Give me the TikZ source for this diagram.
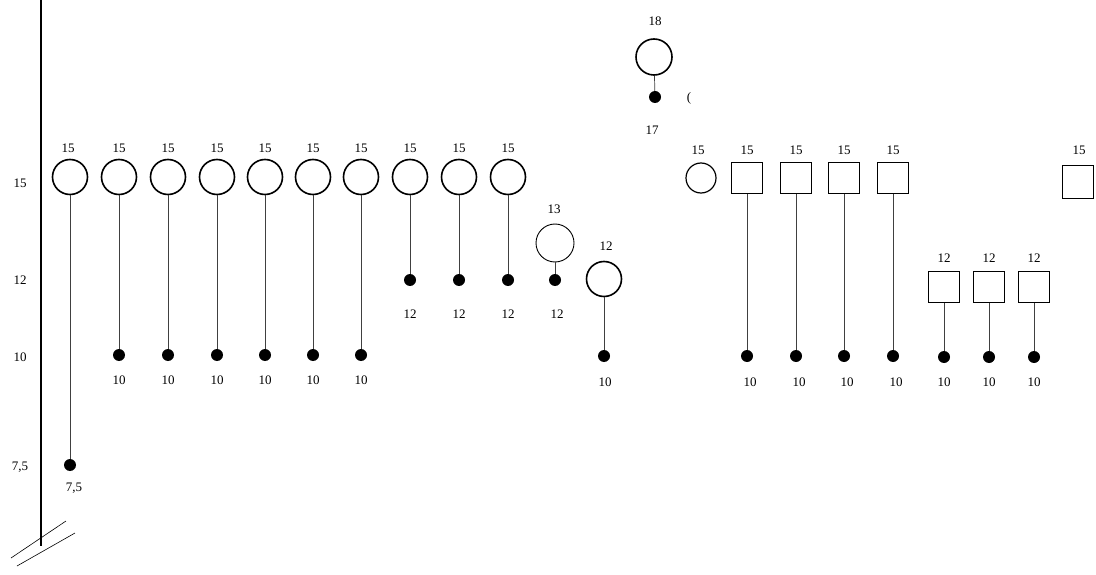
\documentclass[tikz,border=0pt]{standalone}
\usepackage{fontspec}
\setmainfont{Liberation Serif}
\begin{document}
\begin{tikzpicture}[x=1pt,y=-1pt,
  ring/.style={circle,draw=black,line width=1.6pt,minimum size=#1,inner sep=0pt},
  ring/.default=35pt,
  box/.style={rectangle,draw=black,line width=1.6pt,minimum width=31pt,minimum height=31pt,inner sep=0pt},
  dot/.style={circle,fill=black,minimum size=12pt,inner sep=0pt},
  lbl/.style={font=\fontsize{13}{13}\selectfont,inner sep=0pt},
  stem/.style={draw=black!75,line width=0.7pt}]
\useasboundingbox (0,0) rectangle (1096,575);
% axis
\coordinate (at) at (41,0);
\coordinate (ab) at (41,546);
\draw[line width=2.8pt] (at) -- (ab);
\coordinate (h1a) at (11,558); \coordinate (h1b) at (66,521);
\coordinate (h2a) at (17,566); \coordinate (h2b) at (75,533);
\draw[line width=0.6pt] (h1a) -- (h1b);
\draw[line width=0.6pt] (h2a) -- (h2b);
\node[lbl] (y15) at (20,183) {15};
\node[lbl] (y12) at (20,280) {12};
\node[lbl] (y10) at (20,357) {10};
\node[lbl] (y75) at (20,467) {7,5};
% first circle
\node[ring] (c1) at (70,177) {};
\node[lbl] (l1) at (68,148) {15};
\node[dot] (d1) at (70,465) {};
\node[lbl] (m1) at (74,488) {7,5};
\draw[stem] (c1) -- (d1);
% circles to 10
\foreach \i/\x in {2/119,3/168,4/217,5/265,6/313,7/361}{
  \node[ring] (c\i) at (\x,177) {};
  \node[lbl] (l\i) at (\x,148) {15};
  \node[dot] (d\i) at (\x,355) {};
  \node[lbl] (m\i) at (\x,380) {10};
  \draw[stem] (c\i) -- (d\i);
}
% circles to 12
\foreach \i/\x in {8/410,9/459,10/508}{
  \node[ring] (c\i) at (\x,177) {};
  \node[lbl] (l\i) at (\x,148) {15};
  \node[dot] (d\i) at (\x,280) {};
  \node[lbl] (m\i) at (\x,314) {12};
  \draw[stem] (c\i) -- (d\i);
}
% circle 13
\node[ring=38pt,line width=0.9pt] (c11) at (555,243) {};
\node[lbl] (l11) at (554,209) {13};
\node[dot] (d11) at (555,280) {};
\node[lbl] (m11) at (557,314) {12};
\draw[stem] (c11) -- (d11);
% circle 12
\node[ring] (c12) at (604,279) {};
\node[lbl] (l12) at (606,246) {12};
\node[dot] (d12) at (604,356) {};
\node[lbl] (m12) at (605,382) {10};
\draw[stem] (c12) -- (d12);
% circle 18
\node[ring=36pt] (c13) at (654,57) {};
\node[lbl] (l13) at (655,21) {18};
\node[dot] (d13) at (655,97) {};
\node[lbl] (m13) at (652,130) {17};
\draw[stem] (c13) -- (d13);
\node[lbl] (par) at (689,98) {(};
% small circle
\node[ring=30pt,line width=1.2pt] (c14) at (701,178) {};
\node[lbl] (l14) at (698,150) {15};
% squares row 1
\foreach \i/\x in {1/747,2/796,3/844,4/893}{
  \node[box] (s\i) at (\x,178) {};
  \node[lbl] (k\i) at (\x,150) {15};
  \node[dot] (e\i) at (\x,356) {};
  \node[lbl] (n\i) at (\x+3,382) {10};
  \draw[stem] (s\i) -- (e\i);
}
\node[box,minimum height=33pt] (s5) at (1078,182) {};
\node[lbl] (k5) at (1079,150) {15};
% squares row 2
\foreach \i/\x in {6/944,7/989,8/1034}{
  \node[box] (s\i) at (\x,287) {};
  \node[lbl] (k\i) at (\x,258) {12};
  \node[dot] (e\i) at (\x,357) {};
  \node[lbl] (n\i) at (\x,382) {10};
  \draw[stem] (s\i) -- (e\i);
}
\end{tikzpicture}
\end{document}
